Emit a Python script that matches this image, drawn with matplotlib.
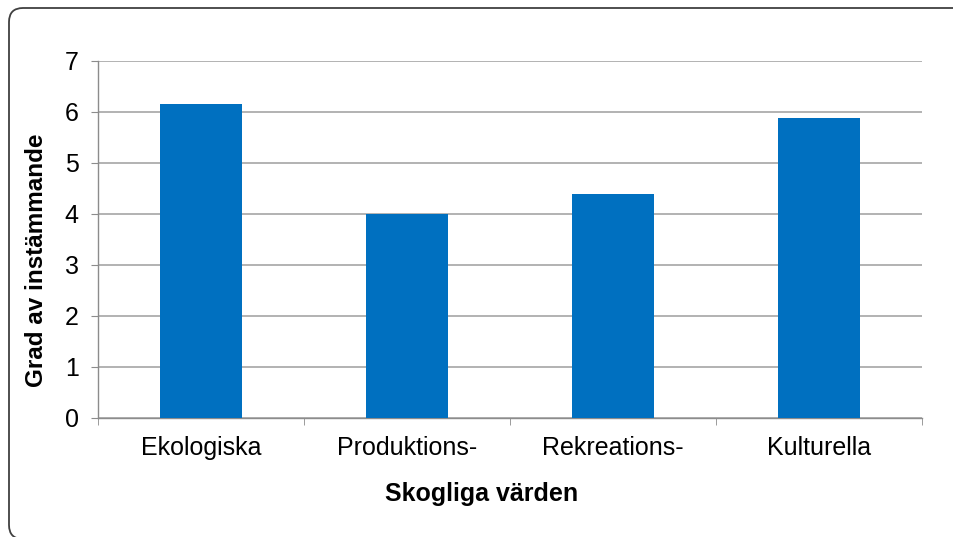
import matplotlib
matplotlib.use('Agg')
import matplotlib.pyplot as plt
from matplotlib.patches import FancyBboxPatch
from matplotlib.transforms import IdentityTransform
import numpy as np

plt.rcParams['font.family'] = ['Liberation Sans', 'DejaVu Sans']

categories = ['Ekologiska', 'Produktions-', 'Rekreations-', 'Kulturella']
values = [6.15, 3.99, 4.38, 5.88]
yticks = [0, 1, 2, 3, 4, 5, 6, 7]

bar_color = '#0070C0'
grid_color = '#A6A6A6'
axis_color = '#8C8C8C'

fig = plt.figure(figsize=(9.54, 5.37), dpi=100)
ax = fig.add_axes([98/954, 1 - 417.7/537, (922-98)/954, (417.7-60.7)/537])

x = np.arange(len(categories))
ax.bar(x, values, width=0.4, color=bar_color, zorder=3)

ax.set_xlim(-0.5, len(categories) - 0.5)
ax.set_ylim(0, 7)
ax.set_yticks(yticks)
ax.set_xticks(x)
ax.set_xticklabels(categories, fontsize=18)
ax.set_xticks(np.arange(len(categories) + 1) - 0.5, minor=True)
ax.tick_params(axis='x', which='major', length=0, pad=13.5)
ax.tick_params(axis='x', which='minor', length=5, color=axis_color, direction='out')
ax.tick_params(axis='y', length=5, color=axis_color, labelsize=18, pad=9)
ax.yaxis.grid(True, color=grid_color, linewidth=1.2, zorder=0)
ax.set_axisbelow(True)

for s in ['top', 'right']:
    ax.spines[s].set_visible(False)
for s in ['left', 'bottom']:
    ax.spines[s].set_color(axis_color)
    ax.spines[s].set_linewidth(1.0)

fig.text(37/954, 1 - 260/537, 'Grad av instämmande', rotation=90, fontsize=17.5,
         fontweight='bold', ha='center', va='center')
fig.text(482/954, 1 - 494/537, 'Skogliga värden', fontsize=18,
         fontweight='bold', ha='center', va='center')

# frame of the chart area, right and bottom edges fall outside the picture
frame = FancyBboxPatch((9, -2), 1000, 531, boxstyle='round,pad=0,rounding_size=14',
                       transform=IdentityTransform(), facecolor='none',
                       edgecolor='#404040', linewidth=1.3)
fig.patches.append(frame)

fig.savefig('out.png', dpi=100)
